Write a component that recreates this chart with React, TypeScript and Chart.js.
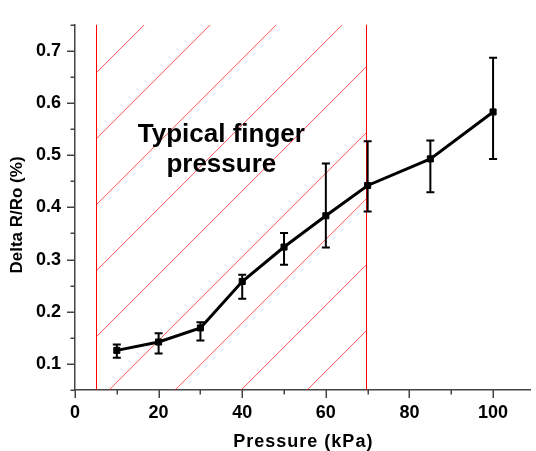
import React, { useEffect, useRef } from "react";
import { Chart, registerables } from "chart.js";

Chart.register(...registerables);

// ---- Data ----
const pressure = [10, 20, 30, 40, 50, 60, 70, 85, 100];
const deltaR = [0.126, 0.142, 0.169, 0.258, 0.324, 0.384, 0.442, 0.493, 0.583];
const errHigh = [0.137, 0.159, 0.18, 0.271, 0.351, 0.484, 0.527, 0.528, 0.687];
const errLow = [0.112, 0.12, 0.145, 0.225, 0.29, 0.323, 0.392, 0.429, 0.493];
const fingerRange = [5.1, 69.7];
const annotationLines = ["Typical finger", "pressure"];
const annotationAnchor = [35, 0.526];
const xMajorTicks = [0, 20, 40, 60, 80, 100];
const yMajorTicks = [0.1, 0.2, 0.3, 0.4, 0.5, 0.6, 0.7];
const xTitle = "Pressure (kPa)";
const yTitle = "Delta R/Ro (%)";

// ---- Styles ----
const FONT = "'Liberation Sans', Arial, sans-serif";
const AXIS_COLOR = "#444444";
const HATCH_SPACING = 66;

const isMajor = (v: number, list: number[]) => list.some((m) => Math.abs(m - v) < 1e-6);

const decorPlugin = {
  id: "decor",
  beforeDatasetsDraw(chart: any) {
    const { ctx, chartArea } = chart;
    const xs = chart.scales.x;
    const ys = chart.scales.y;
    const x0 = xs.getPixelForValue(fingerRange[0]);
    const x1 = xs.getPixelForValue(fingerRange[1]);
    const top = chartArea.top;
    const bottom = chartArea.bottom;
    ctx.save();
    // hatch
    ctx.beginPath();
    ctx.rect(x0, top, x1 - x0, bottom - top);
    ctx.clip();
    ctx.strokeStyle = "rgba(255,30,30,0.75)";
    ctx.lineWidth = 1;
    const cStart = x0 + top + 48;
    const cEnd = x1 + bottom;
    for (let c = cStart; c <= cEnd + HATCH_SPACING; c += HATCH_SPACING) {
      ctx.beginPath();
      ctx.moveTo(c - bottom, bottom);
      ctx.lineTo(c - top, top);
      ctx.stroke();
    }
    ctx.restore();
    // vertical boundaries
    ctx.save();
    ctx.strokeStyle = "#ff0000";
    ctx.lineWidth = 1;
    [x0, x1].forEach((px) => {
      const ax = Math.round(px) + 0.5;
      ctx.beginPath();
      ctx.moveTo(ax, top);
      ctx.lineTo(ax, bottom);
      ctx.stroke();
    });
    // annotation text
    ctx.fillStyle = "#000";
    ctx.font = `bold 26px ${FONT}`;
    ctx.textAlign = "center";
    ctx.textBaseline = "alphabetic";
    const ax = xs.getPixelForValue(annotationAnchor[0]);
    const ay = ys.getPixelForValue(annotationAnchor[1]);
    annotationLines.forEach((line, i) => {
      ctx.fillText(line, ax, ay + i * 30);
    });
    ctx.restore();
  },
  afterDatasetsDraw(chart: any) {
    const { ctx } = chart;
    const xs = chart.scales.x;
    const ys = chart.scales.y;
    ctx.save();
    ctx.strokeStyle = "#000";
    ctx.lineWidth = 2;
    pressure.forEach((p, i) => {
      const px = xs.getPixelForValue(p);
      const hi = ys.getPixelForValue(errHigh[i]);
      const lo = ys.getPixelForValue(errLow[i]);
      ctx.beginPath();
      ctx.moveTo(px, hi);
      ctx.lineTo(px, lo);
      ctx.moveTo(px - 4, hi);
      ctx.lineTo(px + 4, hi);
      ctx.moveTo(px - 4, lo);
      ctx.lineTo(px + 4, lo);
      ctx.stroke();
    });
    ctx.restore();
  },
  afterDraw(chart: any) {
    const { ctx, chartArea } = chart;
    const xs = chart.scales.x;
    const ys = chart.scales.y;
    ctx.save();
    ctx.strokeStyle = AXIS_COLOR;
    ctx.lineWidth = 1.5;
    xs.ticks.forEach((t: any) => {
      const px = Math.round(xs.getPixelForValue(t.value)) + 0.25;
      const len = isMajor(t.value, xMajorTicks) ? 8 : 4.5;
      ctx.beginPath();
      ctx.moveTo(px, chartArea.bottom);
      ctx.lineTo(px, chartArea.bottom + len);
      ctx.stroke();
    });
    ys.ticks.forEach((t: any) => {
      const py = Math.round(ys.getPixelForValue(t.value)) + 0.25;
      const len = isMajor(t.value, yMajorTicks) ? 8 : 4.5;
      ctx.beginPath();
      ctx.moveTo(chartArea.left, py);
      ctx.lineTo(chartArea.left - len, py);
      ctx.stroke();
    });
    // axis titles
    ctx.fillStyle = "#000";
    ctx.textAlign = "center";
    ctx.textBaseline = "middle";
    ctx.font = `bold 18px ${FONT}`;
    try {
      (ctx as any).letterSpacing = "1px";
    } catch (e) {}
    ctx.fillText(xTitle, (chartArea.left + chartArea.right) / 2 + 0.5, 442);
    try {
      (ctx as any).letterSpacing = "0px";
    } catch (e) {}
    ctx.font = `bold 17px ${FONT}`;
    ctx.translate(17, 215);
    ctx.rotate(-Math.PI / 2);
    ctx.fillText(yTitle, 0, 0);
    ctx.restore();
  },
};

export default function App() {
  const canvasRef = useRef<HTMLCanvasElement | null>(null);

  useEffect(() => {
    const canvas = canvasRef.current;
    if (!canvas) return;
    const chart = new Chart(canvas, {
      type: "line",
      data: {
        datasets: [
          {
            label: "Delta R/Ro",
            data: pressure.map((p, i) => ({ x: p, y: deltaR[i] })),
            borderColor: "#000",
            backgroundColor: "#000",
            borderWidth: 3,
            pointStyle: "rect",
            pointRadius: 4.3,
            pointBorderWidth: 1,
            tension: 0,
          },
        ],
      },
      options: {
        animation: false,
        responsive: false,
        devicePixelRatio: 1,
        layout: { padding: { left: 0, right: 1, top: 16, bottom: 0 } },
        plugins: {
          legend: { display: false },
          tooltip: { enabled: false },
        },
        scales: {
          x: {
            type: "linear",
            min: 0,
            max: 109,
            afterFit: (s: any) => {
              s.height = 61;
            },
            grid: { display: false, drawTicks: false },
            border: { display: true, color: AXIS_COLOR, width: 1.5 },
            ticks: {
              stepSize: 10,
              includeBounds: false,
              autoSkip: false,
              maxRotation: 0,
              padding: 12,
              color: "#000",
              font: { family: FONT, size: 18, weight: "bold" },
              callback: (v: any) => (isMajor(Number(v), xMajorTicks) ? String(Math.round(Number(v))) : ""),
            },
          },
          y: {
            type: "linear",
            min: 0.05,
            max: 0.75,
            afterFit: (s: any) => {
              s.width = 75;
            },
            grid: { display: false, drawTicks: false },
            border: { display: true, color: AXIS_COLOR, width: 1.5 },
            ticks: {
              stepSize: 0.05,
              includeBounds: false,
              autoSkip: false,
              padding: 14,
              color: "#000",
              font: { family: FONT, size: 18, weight: "bold" },
              callback: (v: any) => (isMajor(Number(v), yMajorTicks) ? Number(v).toFixed(1) : ""),
            },
          },
        },
      },
      plugins: [decorPlugin],
    });
    return () => chart.destroy();
  }, []);

  return (
    <div style={{ position: "fixed", left: 0, top: 0, width: 536, height: 451, background: "#fff" }}>
      <canvas ref={canvasRef} width={536} height={451} style={{ width: 536, height: 451 }} />
    </div>
  );
}
